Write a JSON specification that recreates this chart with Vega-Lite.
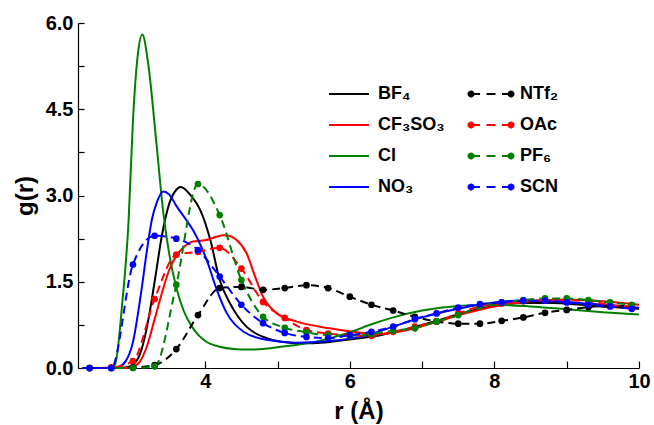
{
  "$schema": "https://vega.github.io/schema/vega-lite/v6.json",
  "width": 561,
  "height": 345,
  "autosize": "none",
  "padding": {"left": 78, "top": 23, "right": 15, "bottom": 57},
  "background": "white",
  "config": {"view": {"stroke": null}, "font": "Liberation Sans"},
  "datasets": {
    "solid": [
      {"series": "BF₄", "r": 2.3, "g": 0}, {"series": "BF₄", "r": 2.8, "g": 0}, {"series": "BF₄", "r": 2.9, "g": 0.01}, {"series": "BF₄", "r": 3.0, "g": 0.06}, {"series": "BF₄", "r": 3.1, "g": 0.25}, {"series": "BF₄", "r": 3.2, "g": 0.75}, {"series": "BF₄", "r": 3.3, "g": 1.5}, {"series": "BF₄", "r": 3.4, "g": 2.3}, {"series": "BF₄", "r": 3.5, "g": 2.85}, {"series": "BF₄", "r": 3.6, "g": 3.1}, {"series": "BF₄", "r": 3.65, "g": 3.15}, {"series": "BF₄", "r": 3.7, "g": 3.13}, {"series": "BF₄", "r": 3.8, "g": 3.0}, {"series": "BF₄", "r": 3.93, "g": 2.75}, {"series": "BF₄", "r": 4.07, "g": 2.23}, {"series": "BF₄", "r": 4.2, "g": 1.53}, {"series": "BF₄", "r": 4.34, "g": 1.13}, {"series": "BF₄", "r": 4.45, "g": 0.9}, {"series": "BF₄", "r": 4.57, "g": 0.72}, {"series": "BF₄", "r": 4.7, "g": 0.6}, {"series": "BF₄", "r": 4.85, "g": 0.52}, {"series": "BF₄", "r": 5.0, "g": 0.47}, {"series": "BF₄", "r": 5.17, "g": 0.44}, {"series": "BF₄", "r": 5.4, "g": 0.43}, {"series": "BF₄", "r": 5.6, "g": 0.44}, {"series": "BF₄", "r": 5.96, "g": 0.49}, {"series": "BF₄", "r": 6.42, "g": 0.57}, {"series": "BF₄", "r": 6.8, "g": 0.68}, {"series": "BF₄", "r": 7.2, "g": 0.82}, {"series": "BF₄", "r": 7.6, "g": 0.97}, {"series": "BF₄", "r": 8.0, "g": 1.08}, {"series": "BF₄", "r": 8.4, "g": 1.13}, {"series": "BF₄", "r": 8.8, "g": 1.13}, {"series": "BF₄", "r": 9.2, "g": 1.1}, {"series": "BF₄", "r": 9.6, "g": 1.06}, {"series": "BF₄", "r": 10, "g": 1.03},
      {"series": "CF₃SO₃", "r": 2.3, "g": 0}, {"series": "CF₃SO₃", "r": 2.9, "g": 0}, {"series": "CF₃SO₃", "r": 3.0, "g": 0.02}, {"series": "CF₃SO₃", "r": 3.1, "g": 0.12}, {"series": "CF₃SO₃", "r": 3.2, "g": 0.4}, {"series": "CF₃SO₃", "r": 3.3, "g": 0.85}, {"series": "CF₃SO₃", "r": 3.4, "g": 1.3}, {"series": "CF₃SO₃", "r": 3.5, "g": 1.7}, {"series": "CF₃SO₃", "r": 3.6, "g": 1.95}, {"series": "CF₃SO₃", "r": 3.7, "g": 2.1}, {"series": "CF₃SO₃", "r": 3.83, "g": 2.2}, {"series": "CF₃SO₃", "r": 4.0, "g": 2.22}, {"series": "CF₃SO₃", "r": 4.1, "g": 2.26}, {"series": "CF₃SO₃", "r": 4.25, "g": 2.31}, {"series": "CF₃SO₃", "r": 4.35, "g": 2.29}, {"series": "CF₃SO₃", "r": 4.43, "g": 2.23}, {"series": "CF₃SO₃", "r": 4.57, "g": 2.0}, {"series": "CF₃SO₃", "r": 4.69, "g": 1.59}, {"series": "CF₃SO₃", "r": 4.8, "g": 1.24}, {"series": "CF₃SO₃", "r": 4.99, "g": 0.95}, {"series": "CF₃SO₃", "r": 5.26, "g": 0.81}, {"series": "CF₃SO₃", "r": 5.72, "g": 0.69}, {"series": "CF₃SO₃", "r": 6.18, "g": 0.61}, {"series": "CF₃SO₃", "r": 6.4, "g": 0.59}, {"series": "CF₃SO₃", "r": 6.8, "g": 0.66}, {"series": "CF₃SO₃", "r": 7.2, "g": 0.8}, {"series": "CF₃SO₃", "r": 7.6, "g": 0.95}, {"series": "CF₃SO₃", "r": 8.0, "g": 1.07}, {"series": "CF₃SO₃", "r": 8.5, "g": 1.16}, {"series": "CF₃SO₃", "r": 9.0, "g": 1.19}, {"series": "CF₃SO₃", "r": 9.5, "g": 1.16}, {"series": "CF₃SO₃", "r": 10, "g": 1.1},
      {"series": "Cl", "r": 2.3, "g": 0}, {"series": "Cl", "r": 2.65, "g": 0}, {"series": "Cl", "r": 2.75, "g": 0.05}, {"series": "Cl", "r": 2.85, "g": 1.1}, {"series": "Cl", "r": 2.94, "g": 2.57}, {"series": "Cl", "r": 3.0, "g": 4.3}, {"series": "Cl", "r": 3.07, "g": 5.48}, {"series": "Cl", "r": 3.13, "g": 5.8}, {"series": "Cl", "r": 3.21, "g": 5.3}, {"series": "Cl", "r": 3.33, "g": 3.84}, {"series": "Cl", "r": 3.42, "g": 2.7}, {"series": "Cl", "r": 3.5, "g": 2.0}, {"series": "Cl", "r": 3.6, "g": 1.4}, {"series": "Cl", "r": 3.7, "g": 1.0}, {"series": "Cl", "r": 3.8, "g": 0.75}, {"series": "Cl", "r": 3.9, "g": 0.58}, {"series": "Cl", "r": 4.0, "g": 0.47}, {"series": "Cl", "r": 4.2, "g": 0.37}, {"series": "Cl", "r": 4.4, "g": 0.33}, {"series": "Cl", "r": 4.6, "g": 0.32}, {"series": "Cl", "r": 4.8, "g": 0.33}, {"series": "Cl", "r": 5.0, "g": 0.36}, {"series": "Cl", "r": 5.5, "g": 0.45}, {"series": "Cl", "r": 6.0, "g": 0.62}, {"series": "Cl", "r": 6.3, "g": 0.76}, {"series": "Cl", "r": 6.6, "g": 0.88}, {"series": "Cl", "r": 7.0, "g": 1.0}, {"series": "Cl", "r": 7.5, "g": 1.08}, {"series": "Cl", "r": 8.0, "g": 1.1}, {"series": "Cl", "r": 8.5, "g": 1.07}, {"series": "Cl", "r": 9.0, "g": 1.02}, {"series": "Cl", "r": 9.5, "g": 0.97}, {"series": "Cl", "r": 10, "g": 0.93},
      {"series": "NO₃", "r": 2.3, "g": 0}, {"series": "NO₃", "r": 2.7, "g": 0}, {"series": "NO₃", "r": 2.8, "g": 0.02}, {"series": "NO₃", "r": 2.9, "g": 0.12}, {"series": "NO₃", "r": 3.0, "g": 0.45}, {"series": "NO₃", "r": 3.1, "g": 1.2}, {"series": "NO₃", "r": 3.2, "g": 2.1}, {"series": "NO₃", "r": 3.26, "g": 2.57}, {"series": "NO₃", "r": 3.33, "g": 2.88}, {"series": "NO₃", "r": 3.42, "g": 3.07}, {"series": "NO₃", "r": 3.5, "g": 3.02}, {"series": "NO₃", "r": 3.6, "g": 2.82}, {"series": "NO₃", "r": 3.74, "g": 2.57}, {"series": "NO₃", "r": 3.83, "g": 2.4}, {"series": "NO₃", "r": 4.02, "g": 1.88}, {"series": "NO₃", "r": 4.16, "g": 1.36}, {"series": "NO₃", "r": 4.3, "g": 0.95}, {"series": "NO₃", "r": 4.53, "g": 0.63}, {"series": "NO₃", "r": 4.85, "g": 0.49}, {"series": "NO₃", "r": 5.26, "g": 0.44}, {"series": "NO₃", "r": 5.72, "g": 0.47}, {"series": "NO₃", "r": 6.18, "g": 0.55}, {"series": "NO₃", "r": 6.6, "g": 0.72}, {"series": "NO₃", "r": 7.0, "g": 0.88}, {"series": "NO₃", "r": 7.5, "g": 1.03}, {"series": "NO₃", "r": 8.0, "g": 1.14}, {"series": "NO₃", "r": 8.3, "g": 1.17}, {"series": "NO₃", "r": 8.8, "g": 1.16}, {"series": "NO₃", "r": 9.3, "g": 1.12}, {"series": "NO₃", "r": 10, "g": 1.05}
    ],
    "dashed": [
      {"series": "NTf₂", "r": 2.4, "g": 0}, {"series": "NTf₂", "r": 2.7, "g": 0}, {"series": "NTf₂", "r": 3.0, "g": 0.01}, {"series": "NTf₂", "r": 3.3, "g": 0.05}, {"series": "NTf₂", "r": 3.6, "g": 0.33}, {"series": "NTf₂", "r": 3.9, "g": 0.92}, {"series": "NTf₂", "r": 4.2, "g": 1.39}, {"series": "NTf₂", "r": 4.5, "g": 1.41}, {"series": "NTf₂", "r": 4.8, "g": 1.36}, {"series": "NTf₂", "r": 5.1, "g": 1.39}, {"series": "NTf₂", "r": 5.4, "g": 1.44}, {"series": "NTf₂", "r": 5.7, "g": 1.39}, {"series": "NTf₂", "r": 6.0, "g": 1.24}, {"series": "NTf₂", "r": 6.3, "g": 1.1}, {"series": "NTf₂", "r": 6.6, "g": 1.0}, {"series": "NTf₂", "r": 6.9, "g": 0.89}, {"series": "NTf₂", "r": 7.2, "g": 0.81}, {"series": "NTf₂", "r": 7.5, "g": 0.77}, {"series": "NTf₂", "r": 7.8, "g": 0.77}, {"series": "NTf₂", "r": 8.1, "g": 0.82}, {"series": "NTf₂", "r": 8.4, "g": 0.88}, {"series": "NTf₂", "r": 8.7, "g": 0.96}, {"series": "NTf₂", "r": 9.0, "g": 1.01}, {"series": "NTf₂", "r": 9.3, "g": 1.06}, {"series": "NTf₂", "r": 9.6, "g": 1.08}, {"series": "NTf₂", "r": 9.9, "g": 1.08},
      {"series": "OAc", "r": 2.4, "g": 0}, {"series": "OAc", "r": 2.7, "g": 0.01}, {"series": "OAc", "r": 3.0, "g": 0.12}, {"series": "OAc", "r": 3.3, "g": 1.2}, {"series": "OAc", "r": 3.6, "g": 1.97}, {"series": "OAc", "r": 3.9, "g": 2.02}, {"series": "OAc", "r": 4.2, "g": 2.09}, {"series": "OAc", "r": 4.5, "g": 1.73}, {"series": "OAc", "r": 4.8, "g": 1.15}, {"series": "OAc", "r": 5.1, "g": 0.87}, {"series": "OAc", "r": 5.4, "g": 0.66}, {"series": "OAc", "r": 5.7, "g": 0.6}, {"series": "OAc", "r": 6.0, "g": 0.57}, {"series": "OAc", "r": 6.3, "g": 0.56}, {"series": "OAc", "r": 6.6, "g": 0.63}, {"series": "OAc", "r": 6.9, "g": 0.72}, {"series": "OAc", "r": 7.2, "g": 0.81}, {"series": "OAc", "r": 7.5, "g": 0.95}, {"series": "OAc", "r": 7.8, "g": 1.07}, {"series": "OAc", "r": 8.1, "g": 1.12}, {"series": "OAc", "r": 8.4, "g": 1.16}, {"series": "OAc", "r": 8.7, "g": 1.18}, {"series": "OAc", "r": 9.0, "g": 1.18}, {"series": "OAc", "r": 9.3, "g": 1.16}, {"series": "OAc", "r": 9.6, "g": 1.1}, {"series": "OAc", "r": 9.9, "g": 1.07},
      {"series": "PF₆", "r": 2.4, "g": 0}, {"series": "PF₆", "r": 2.7, "g": 0}, {"series": "PF₆", "r": 3.0, "g": 0}, {"series": "PF₆", "r": 3.3, "g": 0.03}, {"series": "PF₆", "r": 3.6, "g": 1.45}, {"series": "PF₆", "r": 3.9, "g": 3.2}, {"series": "PF₆", "r": 4.2, "g": 2.66}, {"series": "PF₆", "r": 4.5, "g": 1.53}, {"series": "PF₆", "r": 4.8, "g": 0.89}, {"series": "PF₆", "r": 5.1, "g": 0.7}, {"series": "PF₆", "r": 5.4, "g": 0.62}, {"series": "PF₆", "r": 5.7, "g": 0.57}, {"series": "PF₆", "r": 6.0, "g": 0.56}, {"series": "PF₆", "r": 6.3, "g": 0.59}, {"series": "PF₆", "r": 6.6, "g": 0.65}, {"series": "PF₆", "r": 6.9, "g": 0.69}, {"series": "PF₆", "r": 7.2, "g": 0.81}, {"series": "PF₆", "r": 7.5, "g": 0.92}, {"series": "PF₆", "r": 7.8, "g": 1.07}, {"series": "PF₆", "r": 8.1, "g": 1.14}, {"series": "PF₆", "r": 8.4, "g": 1.18}, {"series": "PF₆", "r": 8.7, "g": 1.21}, {"series": "PF₆", "r": 9.0, "g": 1.21}, {"series": "PF₆", "r": 9.3, "g": 1.18}, {"series": "PF₆", "r": 9.6, "g": 1.14}, {"series": "PF₆", "r": 9.9, "g": 1.1},
      {"series": "SCN", "r": 2.4, "g": 0}, {"series": "SCN", "r": 2.7, "g": 0}, {"series": "SCN", "r": 3.0, "g": 1.8}, {"series": "SCN", "r": 3.3, "g": 2.3}, {"series": "SCN", "r": 3.6, "g": 2.25}, {"series": "SCN", "r": 3.9, "g": 2.05}, {"series": "SCN", "r": 4.2, "g": 1.59}, {"series": "SCN", "r": 4.5, "g": 1.1}, {"series": "SCN", "r": 4.8, "g": 0.78}, {"series": "SCN", "r": 5.1, "g": 0.61}, {"series": "SCN", "r": 5.4, "g": 0.54}, {"series": "SCN", "r": 5.7, "g": 0.52}, {"series": "SCN", "r": 6.0, "g": 0.57}, {"series": "SCN", "r": 6.3, "g": 0.63}, {"series": "SCN", "r": 6.6, "g": 0.72}, {"series": "SCN", "r": 6.9, "g": 0.85}, {"series": "SCN", "r": 7.2, "g": 0.95}, {"series": "SCN", "r": 7.5, "g": 1.05}, {"series": "SCN", "r": 7.8, "g": 1.11}, {"series": "SCN", "r": 8.1, "g": 1.14}, {"series": "SCN", "r": 8.4, "g": 1.17}, {"series": "SCN", "r": 8.7, "g": 1.17}, {"series": "SCN", "r": 9.0, "g": 1.14}, {"series": "SCN", "r": 9.3, "g": 1.1}, {"series": "SCN", "r": 9.6, "g": 1.07}, {"series": "SCN", "r": 9.9, "g": 1.03}
    ]
  },
  "resolve": {"axis": {"x": "independent", "y": "independent"}},
  "layer": [
    {
      "data": {"name": "solid"},
      "mark": {"type": "line", "strokeWidth": 2, "interpolate": "monotone"},
      "encoding": {
        "x": {
          "field": "r", "type": "quantitative",
          "scale": {"domain": [2.24, 10], "nice": false, "zero": false},
          "axis": {
            "orient": "bottom", "values": [4, 6, 8, 10],
            "title": "r (Å)", "titleFontSize": 24, "titleFontWeight": "bold", "titleColor": "black",
            "titleY": 50, "titleBaseline": "alphabetic",
            "labelFontSize": 20, "labelFontWeight": "bold", "labelColor": "black",
            "labelPadding": 3, "labelFlush": false, "labelOverlap": false, "labelBound": false,
            "ticks": false, "tickSize": 0, "grid": false, "domainColor": "black", "domainWidth": 1.2
          }
        },
        "y": {
          "field": "g", "type": "quantitative",
          "scale": {"domain": [0, 6], "nice": false},
          "axis": {
            "orient": "left", "values": [0, 1.5, 3, 4.5, 6], "format": ".1f",
            "title": "g(r)", "titleFontSize": 24, "titleFontWeight": "bold", "titleColor": "black",
            "titleX": -46, "titleBaseline": "alphabetic",
            "labelFontSize": 20, "labelFontWeight": "bold", "labelColor": "black",
            "labelPadding": 5, "labelFlush": false, "labelOverlap": false, "labelBound": false,
            "ticks": false, "tickSize": 0, "grid": false, "domainColor": "black", "domainWidth": 1.2
          }
        },
        "stroke": {
          "field": "series", "type": "nominal",
          "scale": {"domain": ["BF₄", "CF₃SO₃", "Cl", "NO₃"], "range": ["#000000", "#ff0000", "#008000", "#0000ff"]},
          "legend": {
            "orient": "none", "legendX": 260, "legendY": 60, "title": null, "padding": 0,
            "symbolType": "M-2,0H2", "symbolSize": 400, "symbolStrokeWidth": 2, "symbolOpacity": 1,
            "labelFontSize": 18, "labelFontWeight": "bold", "labelColor": "black", "labelLimit": 400,
            "labelOffset": 18, "rowPadding": 11
          }
        }
      }
    },
    {
      "data": {"name": "dashed"},
      "mark": {"type": "line", "strokeWidth": 2, "strokeDash": [8, 5], "interpolate": "monotone"},
      "encoding": {
        "x": {
          "field": "r", "type": "quantitative",
          "scale": {"domain": [2.24, 10], "nice": false, "zero": false},
          "axis": {
            "orient": "top", "values": [3, 4, 5, 6, 7, 8, 9, 10], "offset": -345, "tickSize": 7, "ticks": true,
            "tickColor": "black", "tickWidth": 1.2,
            "labels": false, "domain": false, "grid": false, "title": null
          }
        },
        "y": {
          "field": "g", "type": "quantitative",
          "scale": {"domain": [0, 6], "nice": false},
          "axis": {
            "orient": "right", "values": [0, 0.75, 1.5, 2.25, 3, 3.75, 4.5, 5.25, 6], "offset": -561, "tickSize": 6, "ticks": true,
            "tickColor": "black", "tickWidth": 1.2,
            "labels": false, "domain": false, "grid": false, "title": null
          }
        },
        "color": {
          "field": "series", "type": "nominal",
          "scale": {"domain": ["NTf₂", "OAc", "PF₆", "SCN"], "range": ["#000000", "#ff0000", "#008000", "#0000ff"]},
          "legend": {
            "orient": "none", "legendX": 402, "legendY": 60, "title": null, "padding": 0,
            "symbolType": "M-2,0H-1.1M-0.45,0H0.45M1.1,0H2M-1.75,0A0.25,0.25 0 1,0 -2.25,0A0.25,0.25 0 1,0 -1.75,0ZM-1.9,0A0.1,0.1 0 1,0 -2.1,0A0.1,0.1 0 1,0 -1.9,0ZM2.25,0A0.25,0.25 0 1,0 1.75,0A0.25,0.25 0 1,0 2.25,0ZM2.1,0A0.1,0.1 0 1,0 1.9,0A0.1,0.1 0 1,0 2.1,0Z",
            "symbolSize": 400, "symbolStrokeWidth": 2, "symbolOpacity": 1, "symbolDash": [1, 0],
            "labelFontSize": 18, "labelFontWeight": "bold", "labelColor": "black", "labelLimit": 400,
            "labelOffset": 18, "rowPadding": 11
          }
        }
      }
    },
    {
      "data": {"name": "dashed"},
      "mark": {"type": "point", "filled": true, "size": 45, "opacity": 1},
      "encoding": {
        "x": {
          "field": "r", "type": "quantitative",
          "scale": {"domain": [2.24, 10], "nice": false, "zero": false},
          "axis": null
        },
        "y": {
          "field": "g", "type": "quantitative",
          "scale": {"domain": [0, 6], "nice": false},
          "axis": null
        },
        "fill": {
          "field": "series", "type": "nominal",
          "scale": {"domain": ["NTf₂", "OAc", "PF₆", "SCN"], "range": ["#000000", "#ff0000", "#008000", "#0000ff"]},
          "legend": null
        }
      }
    }
  ]
}
